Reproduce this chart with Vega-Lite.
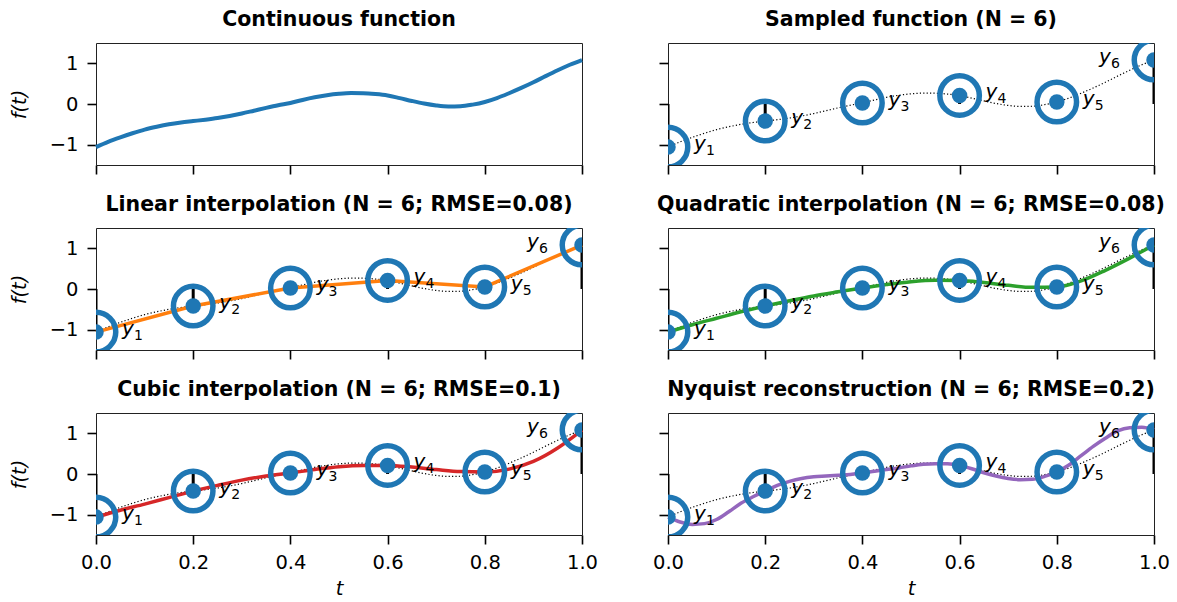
{
  "$schema": "https://vega.github.io/schema/vega-lite/v6.json",
  "autosize": {"type": "none"},
  "padding": {"left": 96, "top": 43, "right": 1081, "bottom": 559},
  "background": "white",
  "config": {
    "font": "DejaVu Sans",
    "view": {"stroke": "#222222", "strokeWidth": 1},
    "axis": {"domain": false, "grid": false, "tickColor": "black", "tickSize": 9, "tickWidth": 1.6, "labelFontSize": 19.5, "labelColor": "black", "labelPadding": 9, "labelFlush": false, "labelOverlap": false, "labelBound": false, "titleFontSize": 19.5, "titleFontWeight": "normal", "titleColor": "black", "titleFontStyle": "italic"},
    "axisX": {"titlePadding": 8},
    "axisY": {"titlePadding": 20},
    "title": {"fontSize": 20.5, "fontWeight": "bold", "color": "black", "offset": 13, "baseline": "alphabetic", "anchor": "middle"}
  },
  "datasets": {
    "f": [
      {"t": 0.0, "v": -1.06}, {"t": 0.025, "v": -0.93}, {"t": 0.05, "v": -0.82}, {"t": 0.075, "v": -0.72},
      {"t": 0.1, "v": -0.63}, {"t": 0.125, "v": -0.56}, {"t": 0.15, "v": -0.5}, {"t": 0.175, "v": -0.455},
      {"t": 0.2, "v": -0.42}, {"t": 0.225, "v": -0.385}, {"t": 0.25, "v": -0.345}, {"t": 0.275, "v": -0.295},
      {"t": 0.3, "v": -0.235}, {"t": 0.325, "v": -0.165}, {"t": 0.35, "v": -0.095}, {"t": 0.375, "v": -0.03},
      {"t": 0.4, "v": 0.025}, {"t": 0.425, "v": 0.1}, {"t": 0.45, "v": 0.165}, {"t": 0.475, "v": 0.215},
      {"t": 0.5, "v": 0.25}, {"t": 0.525, "v": 0.268}, {"t": 0.55, "v": 0.265}, {"t": 0.575, "v": 0.245},
      {"t": 0.6, "v": 0.21}, {"t": 0.625, "v": 0.145}, {"t": 0.65, "v": 0.075}, {"t": 0.675, "v": 0.012},
      {"t": 0.7, "v": -0.035}, {"t": 0.725, "v": -0.06}, {"t": 0.75, "v": -0.055}, {"t": 0.775, "v": -0.015},
      {"t": 0.8, "v": 0.05}, {"t": 0.825, "v": 0.145}, {"t": 0.85, "v": 0.265}, {"t": 0.875, "v": 0.395},
      {"t": 0.9, "v": 0.535}, {"t": 0.925, "v": 0.685}, {"t": 0.95, "v": 0.83}, {"t": 0.975, "v": 0.965},
      {"t": 1.0, "v": 1.08}
    ],
    "s": [
      {"t": 0.0, "v": -1.06, "sub": "1"},
      {"t": 0.2, "v": -0.42, "sub": "2"},
      {"t": 0.4, "v": 0.025, "sub": "3"},
      {"t": 0.6, "v": 0.21, "sub": "4"},
      {"t": 0.8, "v": 0.05, "sub": "5"},
      {"t": 1.0, "v": 1.08, "sub": "6"}
    ],
    "quad": [
      {"t": 0.0, "v": -1.06}, {"t": 0.05, "v": -0.88}, {"t": 0.1, "v": -0.72}, {"t": 0.15, "v": -0.56},
      {"t": 0.2, "v": -0.42}, {"t": 0.25, "v": -0.29}, {"t": 0.3, "v": -0.17}, {"t": 0.35, "v": -0.07},
      {"t": 0.4, "v": 0.025}, {"t": 0.45, "v": 0.11}, {"t": 0.5, "v": 0.18}, {"t": 0.55, "v": 0.215},
      {"t": 0.6, "v": 0.21}, {"t": 0.65, "v": 0.16}, {"t": 0.7, "v": 0.09}, {"t": 0.75, "v": 0.04},
      {"t": 0.8, "v": 0.05}, {"t": 0.85, "v": 0.2}, {"t": 0.9, "v": 0.46}, {"t": 0.95, "v": 0.76},
      {"t": 1.0, "v": 1.08}
    ],
    "cub": [
      {"t": 0.0, "v": -1.06}, {"t": 0.05, "v": -0.89}, {"t": 0.1, "v": -0.74}, {"t": 0.15, "v": -0.58},
      {"t": 0.2, "v": -0.42}, {"t": 0.25, "v": -0.28}, {"t": 0.3, "v": -0.15}, {"t": 0.35, "v": -0.05},
      {"t": 0.4, "v": 0.025}, {"t": 0.45, "v": 0.11}, {"t": 0.5, "v": 0.18}, {"t": 0.55, "v": 0.21},
      {"t": 0.6, "v": 0.21}, {"t": 0.65, "v": 0.17}, {"t": 0.7, "v": 0.11}, {"t": 0.75, "v": 0.06},
      {"t": 0.8, "v": 0.05}, {"t": 0.85, "v": 0.12}, {"t": 0.9, "v": 0.31}, {"t": 0.95, "v": 0.64},
      {"t": 1.0, "v": 1.08}
    ],
    "nyq": [
      {"t": 0.0, "v": -1.06}, {"t": 0.025, "v": -1.18}, {"t": 0.05, "v": -1.24}, {"t": 0.075, "v": -1.22},
      {"t": 0.1, "v": -1.12}, {"t": 0.125, "v": -0.93}, {"t": 0.15, "v": -0.72}, {"t": 0.175, "v": -0.56},
      {"t": 0.2, "v": -0.42}, {"t": 0.225, "v": -0.28}, {"t": 0.25, "v": -0.18}, {"t": 0.275, "v": -0.11},
      {"t": 0.3, "v": -0.07}, {"t": 0.325, "v": -0.05}, {"t": 0.35, "v": -0.03}, {"t": 0.375, "v": -0.01},
      {"t": 0.4, "v": 0.025}, {"t": 0.425, "v": 0.07}, {"t": 0.45, "v": 0.11}, {"t": 0.475, "v": 0.15},
      {"t": 0.5, "v": 0.2}, {"t": 0.525, "v": 0.24}, {"t": 0.55, "v": 0.255}, {"t": 0.575, "v": 0.25},
      {"t": 0.6, "v": 0.21}, {"t": 0.625, "v": 0.13}, {"t": 0.65, "v": 0.03}, {"t": 0.675, "v": -0.05},
      {"t": 0.7, "v": -0.11}, {"t": 0.725, "v": -0.14}, {"t": 0.75, "v": -0.13}, {"t": 0.775, "v": -0.06},
      {"t": 0.8, "v": 0.05}, {"t": 0.825, "v": 0.22}, {"t": 0.85, "v": 0.45}, {"t": 0.875, "v": 0.68},
      {"t": 0.9, "v": 0.88}, {"t": 0.925, "v": 1.06}, {"t": 0.95, "v": 1.14}, {"t": 0.975, "v": 1.15},
      {"t": 1.0, "v": 1.09}
    ]
  },
  "columns": 2,
  "spacing": {"row": 63, "column": 86},
  "bounds": "flush",
  "concat": [
    {
      "width": 486, "height": 122,
      "title": "Continuous function",
      "encoding": {
        "x": {"field": "t", "type": "quantitative", "scale": {"domain": [0, 1], "nice": false, "zero": false}, "axis": {"values": [0, 0.2, 0.4, 0.6, 0.8, 1], "labels": false, "title": null}},
        "y": {"field": "v", "type": "quantitative", "scale": {"domain": [-1.5, 1.5], "nice": false}, "axis": {"values": [-1, 0, 1], "format": "d", "title": "f(t)"}}
      },
      "layer": [
        {"data": {"name": "f"}, "mark": {"type": "line", "color": "#1f77b4", "strokeWidth": 4, "interpolate": "monotone"}}
      ]
    },
    {
      "width": 486, "height": 122,
      "title": "Sampled function (N = 6)",
      "encoding": {
        "x": {"field": "t", "type": "quantitative", "scale": {"domain": [0, 1], "nice": false, "zero": false}, "axis": {"values": [0, 0.2, 0.4, 0.6, 0.8, 1], "labels": false, "title": null}},
        "y": {"field": "v", "type": "quantitative", "scale": {"domain": [-1.5, 1.5], "nice": false}, "axis": {"values": [-1, 0, 1], "labels": false, "title": null}}
      },
      "layer": [
        {"data": {"name": "f"}, "mark": {"type": "line", "color": "black", "strokeWidth": 1.2, "strokeDash": [1.2, 2.2], "interpolate": "monotone"}},
        {"data": {"name": "s"}, "mark": {"type": "rule", "color": "black", "strokeWidth": 3, "clip": true}, "encoding": {"y2": {"datum": 0}}},
        {"data": {"name": "s"}, "mark": {"type": "point", "shape": "circle", "filled": false, "size": 1560, "strokeWidth": 5.5, "color": "#1f77b4", "opacity": 1, "clip": true}},
        {"data": {"name": "s"}, "mark": {"type": "circle", "size": 240, "color": "#1f77b4", "opacity": 1, "clip": true}},
        {"data": {"name": "s"}, "transform": [{"filter": "datum.t < 0.9"}], "mark": {"type": "text", "align": "left", "baseline": "alphabetic", "dx": 26, "dy": 3, "fontSize": 20, "fontStyle": "italic", "color": "black", "text": "y"}},
        {"data": {"name": "s"}, "transform": [{"filter": "datum.t < 0.9"}], "mark": {"type": "text", "align": "left", "baseline": "alphabetic", "dx": 38, "dy": 8, "fontSize": 14, "color": "black"}, "encoding": {"text": {"field": "sub"}}},
        {"data": {"name": "s"}, "transform": [{"filter": "datum.t > 0.9"}], "mark": {"type": "text", "align": "left", "baseline": "alphabetic", "dx": -55, "dy": 3, "fontSize": 20, "fontStyle": "italic", "color": "black", "text": "y"}},
        {"data": {"name": "s"}, "transform": [{"filter": "datum.t > 0.9"}], "mark": {"type": "text", "align": "left", "baseline": "alphabetic", "dx": -43, "dy": 8, "fontSize": 14, "color": "black"}, "encoding": {"text": {"field": "sub"}}}
      ]
    },
    {
      "width": 486, "height": 122,
      "title": "Linear interpolation (N = 6; RMSE=0.08)",
      "encoding": {
        "x": {"field": "t", "type": "quantitative", "scale": {"domain": [0, 1], "nice": false, "zero": false}, "axis": {"values": [0, 0.2, 0.4, 0.6, 0.8, 1], "labels": false, "title": null}},
        "y": {"field": "v", "type": "quantitative", "scale": {"domain": [-1.5, 1.5], "nice": false}, "axis": {"values": [-1, 0, 1], "format": "d", "title": "f(t)"}}
      },
      "layer": [
        {"data": {"name": "f"}, "mark": {"type": "line", "color": "black", "strokeWidth": 1.2, "strokeDash": [1.2, 2.2], "interpolate": "monotone"}},
        {"data": {"name": "s"}, "mark": {"type": "rule", "color": "black", "strokeWidth": 3, "clip": true}, "encoding": {"y2": {"datum": 0}}},
        {"data": {"name": "s"}, "mark": {"type": "line", "color": "#ff7f0e", "strokeWidth": 3.5}},
        {"data": {"name": "s"}, "mark": {"type": "point", "shape": "circle", "filled": false, "size": 1560, "strokeWidth": 5.5, "color": "#1f77b4", "opacity": 1, "clip": true}},
        {"data": {"name": "s"}, "mark": {"type": "circle", "size": 240, "color": "#1f77b4", "opacity": 1, "clip": true}},
        {"data": {"name": "s"}, "transform": [{"filter": "datum.t < 0.9"}], "mark": {"type": "text", "align": "left", "baseline": "alphabetic", "dx": 26, "dy": 3, "fontSize": 20, "fontStyle": "italic", "color": "black", "text": "y"}},
        {"data": {"name": "s"}, "transform": [{"filter": "datum.t < 0.9"}], "mark": {"type": "text", "align": "left", "baseline": "alphabetic", "dx": 38, "dy": 8, "fontSize": 14, "color": "black"}, "encoding": {"text": {"field": "sub"}}},
        {"data": {"name": "s"}, "transform": [{"filter": "datum.t > 0.9"}], "mark": {"type": "text", "align": "left", "baseline": "alphabetic", "dx": -55, "dy": 3, "fontSize": 20, "fontStyle": "italic", "color": "black", "text": "y"}},
        {"data": {"name": "s"}, "transform": [{"filter": "datum.t > 0.9"}], "mark": {"type": "text", "align": "left", "baseline": "alphabetic", "dx": -43, "dy": 8, "fontSize": 14, "color": "black"}, "encoding": {"text": {"field": "sub"}}}
      ]
    },
    {
      "width": 486, "height": 122,
      "title": "Quadratic interpolation (N = 6; RMSE=0.08)",
      "encoding": {
        "x": {"field": "t", "type": "quantitative", "scale": {"domain": [0, 1], "nice": false, "zero": false}, "axis": {"values": [0, 0.2, 0.4, 0.6, 0.8, 1], "labels": false, "title": null}},
        "y": {"field": "v", "type": "quantitative", "scale": {"domain": [-1.5, 1.5], "nice": false}, "axis": {"values": [-1, 0, 1], "labels": false, "title": null}}
      },
      "layer": [
        {"data": {"name": "f"}, "mark": {"type": "line", "color": "black", "strokeWidth": 1.2, "strokeDash": [1.2, 2.2], "interpolate": "monotone"}},
        {"data": {"name": "s"}, "mark": {"type": "rule", "color": "black", "strokeWidth": 3, "clip": true}, "encoding": {"y2": {"datum": 0}}},
        {"data": {"name": "quad"}, "mark": {"type": "line", "color": "#2ca02c", "strokeWidth": 3.5, "interpolate": "monotone"}},
        {"data": {"name": "s"}, "mark": {"type": "point", "shape": "circle", "filled": false, "size": 1560, "strokeWidth": 5.5, "color": "#1f77b4", "opacity": 1, "clip": true}},
        {"data": {"name": "s"}, "mark": {"type": "circle", "size": 240, "color": "#1f77b4", "opacity": 1, "clip": true}},
        {"data": {"name": "s"}, "transform": [{"filter": "datum.t < 0.9"}], "mark": {"type": "text", "align": "left", "baseline": "alphabetic", "dx": 26, "dy": 3, "fontSize": 20, "fontStyle": "italic", "color": "black", "text": "y"}},
        {"data": {"name": "s"}, "transform": [{"filter": "datum.t < 0.9"}], "mark": {"type": "text", "align": "left", "baseline": "alphabetic", "dx": 38, "dy": 8, "fontSize": 14, "color": "black"}, "encoding": {"text": {"field": "sub"}}},
        {"data": {"name": "s"}, "transform": [{"filter": "datum.t > 0.9"}], "mark": {"type": "text", "align": "left", "baseline": "alphabetic", "dx": -55, "dy": 3, "fontSize": 20, "fontStyle": "italic", "color": "black", "text": "y"}},
        {"data": {"name": "s"}, "transform": [{"filter": "datum.t > 0.9"}], "mark": {"type": "text", "align": "left", "baseline": "alphabetic", "dx": -43, "dy": 8, "fontSize": 14, "color": "black"}, "encoding": {"text": {"field": "sub"}}}
      ]
    },
    {
      "width": 486, "height": 122,
      "title": "Cubic interpolation (N = 6; RMSE=0.1)",
      "encoding": {
        "x": {"field": "t", "type": "quantitative", "scale": {"domain": [0, 1], "nice": false, "zero": false}, "axis": {"values": [0, 0.2, 0.4, 0.6, 0.8, 1], "format": ".1f", "title": "t"}},
        "y": {"field": "v", "type": "quantitative", "scale": {"domain": [-1.5, 1.5], "nice": false}, "axis": {"values": [-1, 0, 1], "format": "d", "title": "f(t)"}}
      },
      "layer": [
        {"data": {"name": "f"}, "mark": {"type": "line", "color": "black", "strokeWidth": 1.2, "strokeDash": [1.2, 2.2], "interpolate": "monotone"}},
        {"data": {"name": "s"}, "mark": {"type": "rule", "color": "black", "strokeWidth": 3, "clip": true}, "encoding": {"y2": {"datum": 0}}},
        {"data": {"name": "cub"}, "mark": {"type": "line", "color": "#d62728", "strokeWidth": 3.5, "interpolate": "monotone"}},
        {"data": {"name": "s"}, "mark": {"type": "point", "shape": "circle", "filled": false, "size": 1560, "strokeWidth": 5.5, "color": "#1f77b4", "opacity": 1, "clip": true}},
        {"data": {"name": "s"}, "mark": {"type": "circle", "size": 240, "color": "#1f77b4", "opacity": 1, "clip": true}},
        {"data": {"name": "s"}, "transform": [{"filter": "datum.t < 0.9"}], "mark": {"type": "text", "align": "left", "baseline": "alphabetic", "dx": 26, "dy": 3, "fontSize": 20, "fontStyle": "italic", "color": "black", "text": "y"}},
        {"data": {"name": "s"}, "transform": [{"filter": "datum.t < 0.9"}], "mark": {"type": "text", "align": "left", "baseline": "alphabetic", "dx": 38, "dy": 8, "fontSize": 14, "color": "black"}, "encoding": {"text": {"field": "sub"}}},
        {"data": {"name": "s"}, "transform": [{"filter": "datum.t > 0.9"}], "mark": {"type": "text", "align": "left", "baseline": "alphabetic", "dx": -55, "dy": 3, "fontSize": 20, "fontStyle": "italic", "color": "black", "text": "y"}},
        {"data": {"name": "s"}, "transform": [{"filter": "datum.t > 0.9"}], "mark": {"type": "text", "align": "left", "baseline": "alphabetic", "dx": -43, "dy": 8, "fontSize": 14, "color": "black"}, "encoding": {"text": {"field": "sub"}}}
      ]
    },
    {
      "width": 486, "height": 122,
      "title": "Nyquist reconstruction (N = 6; RMSE=0.2)",
      "encoding": {
        "x": {"field": "t", "type": "quantitative", "scale": {"domain": [0, 1], "nice": false, "zero": false}, "axis": {"values": [0, 0.2, 0.4, 0.6, 0.8, 1], "format": ".1f", "title": "t"}},
        "y": {"field": "v", "type": "quantitative", "scale": {"domain": [-1.5, 1.5], "nice": false}, "axis": {"values": [-1, 0, 1], "labels": false, "title": null}}
      },
      "layer": [
        {"data": {"name": "f"}, "mark": {"type": "line", "color": "black", "strokeWidth": 1.2, "strokeDash": [1.2, 2.2], "interpolate": "monotone"}},
        {"data": {"name": "s"}, "mark": {"type": "rule", "color": "black", "strokeWidth": 3, "clip": true}, "encoding": {"y2": {"datum": 0}}},
        {"data": {"name": "nyq"}, "mark": {"type": "line", "color": "#9467bd", "strokeWidth": 3.5, "interpolate": "monotone"}},
        {"data": {"name": "s"}, "mark": {"type": "point", "shape": "circle", "filled": false, "size": 1560, "strokeWidth": 5.5, "color": "#1f77b4", "opacity": 1, "clip": true}},
        {"data": {"name": "s"}, "mark": {"type": "circle", "size": 240, "color": "#1f77b4", "opacity": 1, "clip": true}},
        {"data": {"name": "s"}, "transform": [{"filter": "datum.t < 0.9"}], "mark": {"type": "text", "align": "left", "baseline": "alphabetic", "dx": 26, "dy": 3, "fontSize": 20, "fontStyle": "italic", "color": "black", "text": "y"}},
        {"data": {"name": "s"}, "transform": [{"filter": "datum.t < 0.9"}], "mark": {"type": "text", "align": "left", "baseline": "alphabetic", "dx": 38, "dy": 8, "fontSize": 14, "color": "black"}, "encoding": {"text": {"field": "sub"}}},
        {"data": {"name": "s"}, "transform": [{"filter": "datum.t > 0.9"}], "mark": {"type": "text", "align": "left", "baseline": "alphabetic", "dx": -55, "dy": 3, "fontSize": 20, "fontStyle": "italic", "color": "black", "text": "y"}},
        {"data": {"name": "s"}, "transform": [{"filter": "datum.t > 0.9"}], "mark": {"type": "text", "align": "left", "baseline": "alphabetic", "dx": -43, "dy": 8, "fontSize": 14, "color": "black"}, "encoding": {"text": {"field": "sub"}}}
      ]
    }
  ]
}
